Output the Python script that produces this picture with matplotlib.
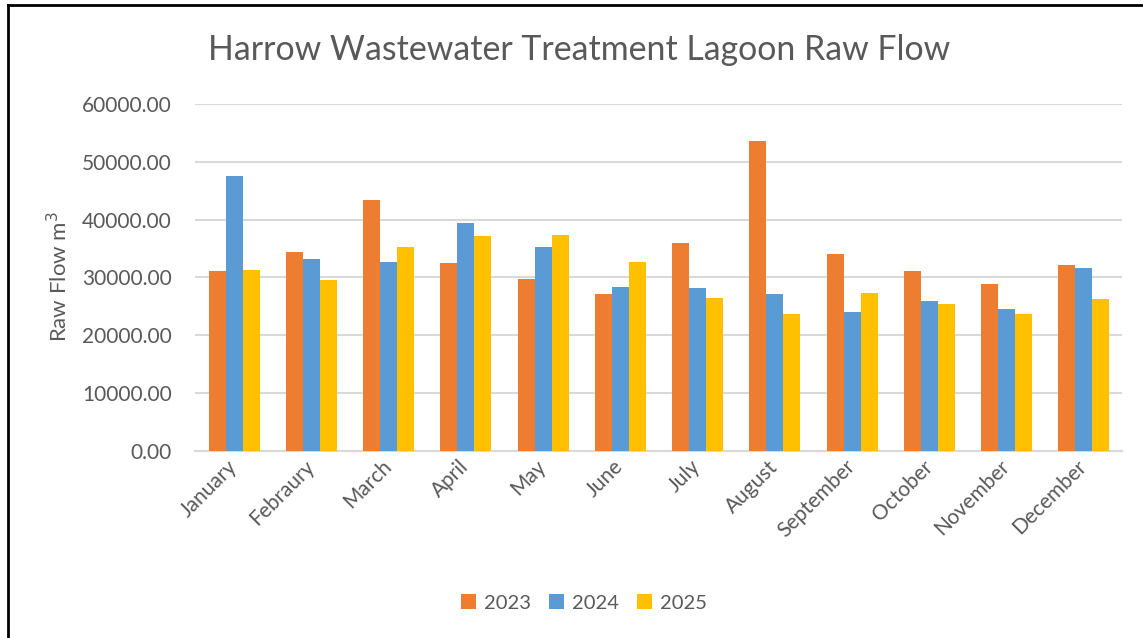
import numpy as np
import matplotlib
matplotlib.use("Agg")
import matplotlib.pyplot as plt
from matplotlib.lines import Line2D

months = ["January", "Febraury", "March", "April", "May", "June", "July",
          "August", "September", "October", "November", "December"]
years = ["2023", "2024", "2025"]
flow_2023 = [31190, 34380, 43340, 32520, 29690, 27140, 35940, 53530, 34090, 31080, 28880, 32180]
flow_2024 = [47510, 33280, 32750, 39470, 35240, 28360, 28240, 27080, 24020, 25980, 24480, 31660]
flow_2025 = [31310, 29630, 35240, 37210, 37270, 32750, 26450, 23670, 27310, 25400, 23610, 26330]
colors = ["#ED7D31", "#5B9BD5", "#FFC000"]

plt.rcParams["font.family"] = ["Lato", "DejaVu Sans"]
text_color = "#595959"

fig = plt.figure(figsize=(11.43, 6.38), dpi=100)
ax = fig.add_axes([0.171, 0.2931, 0.811, 0.5439])

x = np.arange(len(months))
width = 0.22
for i, (vals, year) in enumerate(zip([flow_2023, flow_2024, flow_2025], years)):
    ax.bar(x + (i - 1) * width, vals, width, color=colors[i], label=year, zorder=3)

ax.set_xlim(-0.5, len(months) - 0.5)
ax.set_ylim(0, 60000)
ax.set_yticks(np.arange(0, 60001, 10000))
ax.set_yticklabels([f"{v:.2f}" for v in np.arange(0, 60001, 10000)])
ax.grid(axis="y", color="#d9d9d9", linewidth=1.5, zorder=0)
for side in ["top", "right", "left"]:
    ax.spines[side].set_visible(False)
ax.spines["bottom"].set_color("#d9d9d9")
ax.spines["bottom"].set_linewidth(1.5)
ax.tick_params(length=0, labelsize=15, colors=text_color)
ax.tick_params(axis="y", pad=17)
ax.tick_params(axis="x", pad=9)
ax.set_xticks(x)
ax.set_xticklabels(months, rotation=45, ha="right", va="center", rotation_mode="anchor")

fig.text(0.051, 0.566, "Raw Flow m$^3$", rotation=90, ha="center", va="center",
         fontsize=16, color=text_color)
fig.text(0.507, 0.922, "Harrow Wastewater Treatment Lagoon Raw Flow", ha="center", va="center",
         fontsize=24.4, color=text_color)

ax.legend(loc="center", bbox_to_anchor=(0.511, 0.055), bbox_transform=fig.transFigure, ncol=3,
          frameon=False, fontsize=14.5, labelcolor=text_color, handlelength=0.75,
          handleheight=0.75, handletextpad=0.4, columnspacing=0.9)

fig.add_artist(Line2D([8 / 1143, 8 / 1143], [0, 1 - 5 / 638], color="black", linewidth=2))
fig.add_artist(Line2D([8 / 1143, 1], [1 - 5 / 638, 1 - 5 / 638], color="black", linewidth=2))

fig.savefig("out.png", dpi=100)
